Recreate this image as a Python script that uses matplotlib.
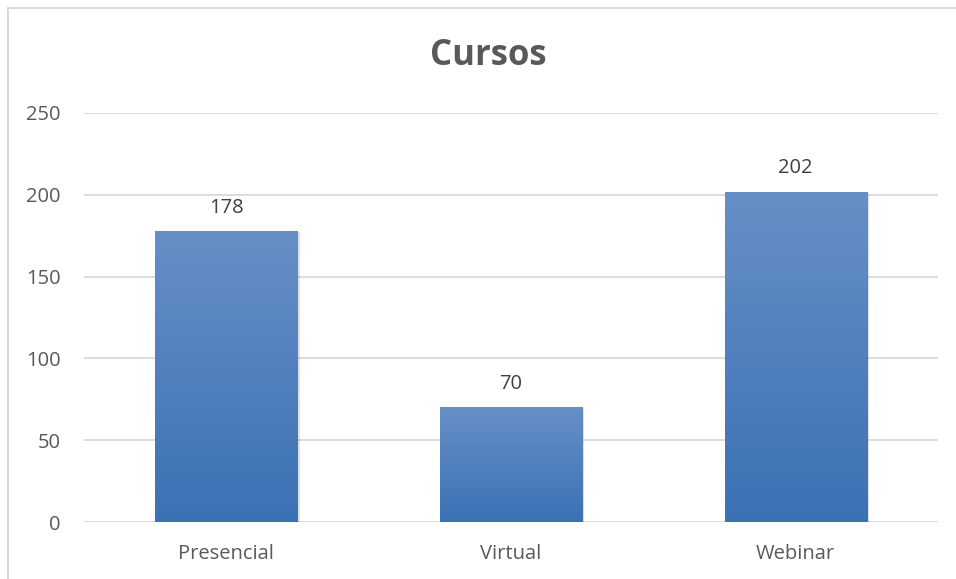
import matplotlib
matplotlib.use("Agg")
import matplotlib.pyplot as plt
import numpy as np
from matplotlib.lines import Line2D
from matplotlib.patches import Rectangle

categories = ["Presencial", "Virtual", "Webinar"]
values = [178, 70, 202]
yticks = [0, 50, 100, 150, 200, 250]
title = "Cursos"

W, H = 956, 579
fig = plt.figure(figsize=(W / 100, H / 100), dpi=100)
fig.patch.set_facecolor("white")

# figure border (top and left visible)
fig.add_artist(Line2D([7.5 / W, 1.0], [1 - 7.5 / H, 1 - 7.5 / H], color="#D9D9D9", lw=1.5))
fig.add_artist(Line2D([7.5 / W, 7.5 / W], [0.0, 1 - 7.5 / H], color="#D9D9D9", lw=1.5))

left, right, top, bottom = 84, 938, 113, 522
ax = fig.add_axes([left / W, 1 - bottom / H, (right - left) / W, (bottom - top) / H])
ax.set_xlim(-0.5, 2.5)
ax.set_ylim(0, 250)
for s in ax.spines.values():
    s.set_visible(False)
ax.set_yticks(yticks)
ax.yaxis.grid(True, color="#D9D9D9", lw=1.3)
ax.set_axisbelow(True)
ax.tick_params(axis="both", length=0, colors="#595959", labelsize=14.5)
ax.tick_params(axis="y", pad=17)
ax.tick_params(axis="x", pad=16)
ax.set_xticks(range(len(categories)))
ax.set_xticklabels(categories)
for lbl in ax.get_xticklabels() + ax.get_yticklabels():
    lbl.set_fontfamily("Open Sans")

# gradient image
grad = np.linspace(0, 1, 256).reshape(-1, 1)
top_c = np.array([0x67, 0x8F, 0xC7]) / 255
bot_c = np.array([0x3B, 0x71, 0xB4]) / 255
img = (bot_c[None, None, :] * (1 - grad[:, :, None]) + top_c[None, None, :] * grad[:, :, None])

bw = 0.5
bars = ax.bar(range(len(categories)), values, width=bw, color="none", zorder=3)
for i, (b, v) in enumerate(zip(bars, values)):
    # shadow
    sh = Rectangle((i - bw / 2 + 0.008, -1.0), bw, v, facecolor="#000000", alpha=0.12,
                   edgecolor="none", zorder=2.5)
    ax.add_patch(sh)
    im = ax.imshow(img, extent=[i - bw / 2, i + bw / 2, 0, v], origin="lower",
                   aspect="auto", zorder=3)
    im.set_clip_path(b)
    ax.text(i, v + 8, str(v), ha="center", va="bottom", fontsize=14.5,
            color="#404040", fontfamily="Open Sans")
ax.set_xlim(-0.5, 2.5)
ax.set_ylim(0, 250)

fig.text(488 / W, 1 - 56 / H, title, ha="center", va="center", fontsize=25,
         fontweight="bold", color="#595959", fontfamily="Open Sans")

fig.savefig("out.png", dpi=100, facecolor="white")
